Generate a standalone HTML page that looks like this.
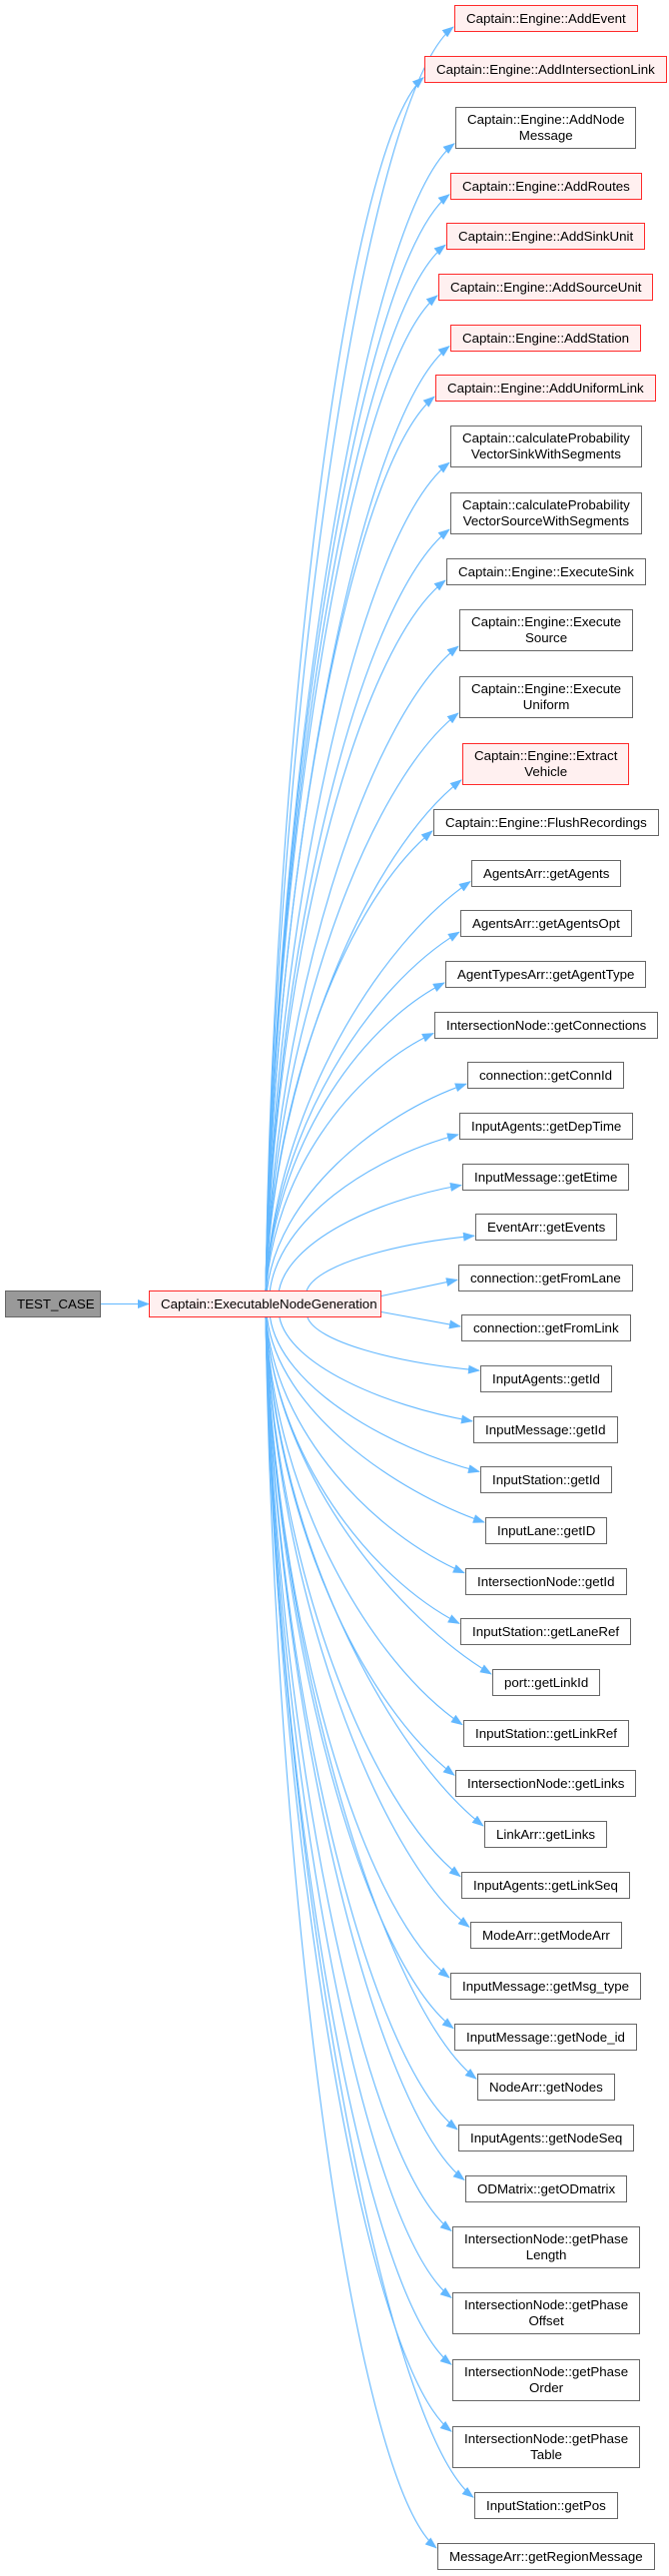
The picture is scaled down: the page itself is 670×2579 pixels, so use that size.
<!DOCTYPE html>
<html><head><meta charset="utf-8">
<style>
html,body{margin:0;padding:0;background:#fff;}
body{width:670px;height:2579px;position:relative;overflow:hidden;font-family:"Liberation Sans",Arial,sans-serif;}
.n{position:absolute;box-sizing:border-box;border:1px solid #666;background:#fff;color:#000;font-size:13.3px;line-height:16px;text-align:center;white-space:nowrap;padding:0 11px;display:flex;flex-direction:column;justify-content:center;}
.r{border-color:#ff2a2a;background:#fff0f0;}
.g{background:#999;border-color:#666;}
svg{position:absolute;left:0;top:0;}
</style></head><body>
<svg id="s" width="670" height="2579" viewBox="0 0 670 2579">
<defs><marker id="a" markerWidth="12" markerHeight="9" refX="11" refY="4.5" orient="auto" markerUnits="userSpaceOnUse"><path d="M0,0 L12,4.5 L0,9 Z" fill="#63b8ff"/></marker></defs>
<g id="e" fill="none" stroke="#63b8ff" stroke-width="1.1"></g>
</svg>
<div class="n g" style="left:5px;top:1292px;width:96px;height:27px;">TEST_CASE</div>
<div class="n r" style="left:149px;top:1292px;width:233px;height:27px;">Captain::ExecutableNodeGeneration</div>
<div id="nodes"></div>
<script>
var N=[
["Captain::Engine::AddEvent",1],
["Captain::Engine::AddIntersectionLink",1],
["Captain::Engine::AddNode|Message",0],
["Captain::Engine::AddRoutes",1],
["Captain::Engine::AddSinkUnit",1],
["Captain::Engine::AddSourceUnit",1],
["Captain::Engine::AddStation",1],
["Captain::Engine::AddUniformLink",1],
["Captain::calculateProbability|VectorSinkWithSegments",0],
["Captain::calculateProbability|VectorSourceWithSegments",0],
["Captain::Engine::ExecuteSink",0],
["Captain::Engine::Execute|Source",0],
["Captain::Engine::Execute|Uniform",0],
["Captain::Engine::Extract|Vehicle",1],
["Captain::Engine::FlushRecordings",0],
["AgentsArr::getAgents",0],
["AgentsArr::getAgentsOpt",0],
["AgentTypesArr::getAgentType",0],
["IntersectionNode::getConnections",0],
["connection::getConnId",0],
["InputAgents::getDepTime",0],
["InputMessage::getEtime",0],
["EventArr::getEvents",0],
["connection::getFromLane",0],
["connection::getFromLink",0],
["InputAgents::getId",0],
["InputMessage::getId",0],
["InputStation::getId",0],
["InputLane::getID",0],
["IntersectionNode::getId",0],
["InputStation::getLaneRef",0],
["port::getLinkId",0],
["InputStation::getLinkRef",0],
["IntersectionNode::getLinks",0],
["LinkArr::getLinks",0],
["InputAgents::getLinkSeq",0],
["ModeArr::getModeArr",0],
["InputMessage::getMsg_type",0],
["InputMessage::getNode_id",0],
["NodeArr::getNodes",0],
["InputAgents::getNodeSeq",0],
["ODMatrix::getODmatrix",0],
["IntersectionNode::getPhase|Length",0],
["IntersectionNode::getPhase|Offset",0],
["IntersectionNode::getPhase|Order",0],
["IntersectionNode::getPhase|Table",0],
["InputStation::getPos",0],
["MessageArr::getRegionMessage",0]
];
var cont=document.getElementById('nodes'),g=document.getElementById('e');
var y=18.5,prevD=null,cx=546.5,oy=1305.5;
for(var i=0;i<N.length;i++){
 var parts=N[i][0].split('|'),d=parts.length>1;
 if(prevD!==null){ y+= (prevD&&d)?66.9:((prevD||d)?58.5:50.65); }
 prevD=d;
 var h=d?42:27;
 var el=document.createElement('div');
 el.className='n'+(N[i][1]?' r':'');
 el.innerHTML=parts.map(function(p){return '<div>'+p+'</div>';}).join('');
 el.style.top=Math.round(y-h/2)+'px';el.style.height=h+'px';
 cont.appendChild(el);
 var w=el.offsetWidth;
 var lx=Math.round(cx-w/2);
 el.style.left=lx+'px';
 var ty=y, dist=oy-ty, ad=Math.abs(dist), up=dist>0;
 var p=document.createElementNS('http://www.w3.org/2000/svg','path');
 var ex=lx-1, ey;
 if(ad<40){
   var sy=oy+(up?-8:8); ey=ty+(up?2:-2);
   p.setAttribute('d','M382,'+sy+' L'+ex+','+ey);
 } else {
   var sx=266+42*Math.exp(-(ad-76)/45); if(sx>308)sx=308;
   var sy=up?1292:1319;
   var off=h/2-5; ey=ty+(up?off:-off);
   var D=ex-sx, V=sy-ey, sg=up?1:-1;
   var c1x=sx+D*0.05, c1y=sy-V*0.45;
   var c2x=ex-Math.min(D*0.5,90), c2y=ey+Math.min(Math.abs(V)*0.15,70)*sg;
   p.setAttribute('d','M'+sx.toFixed(1)+','+sy+' C'+c1x.toFixed(1)+','+c1y.toFixed(1)+' '+c2x.toFixed(1)+','+c2y.toFixed(1)+' '+ex+','+ey.toFixed(1));
 }
 p.setAttribute('marker-end','url(#a)');
 g.appendChild(p);
}
var p0=document.createElementNS('http://www.w3.org/2000/svg','path');
p0.setAttribute('d','M101,1305.5 L149,1305.5');p0.setAttribute('marker-end','url(#a)');g.appendChild(p0);
</script>
</body></html>
